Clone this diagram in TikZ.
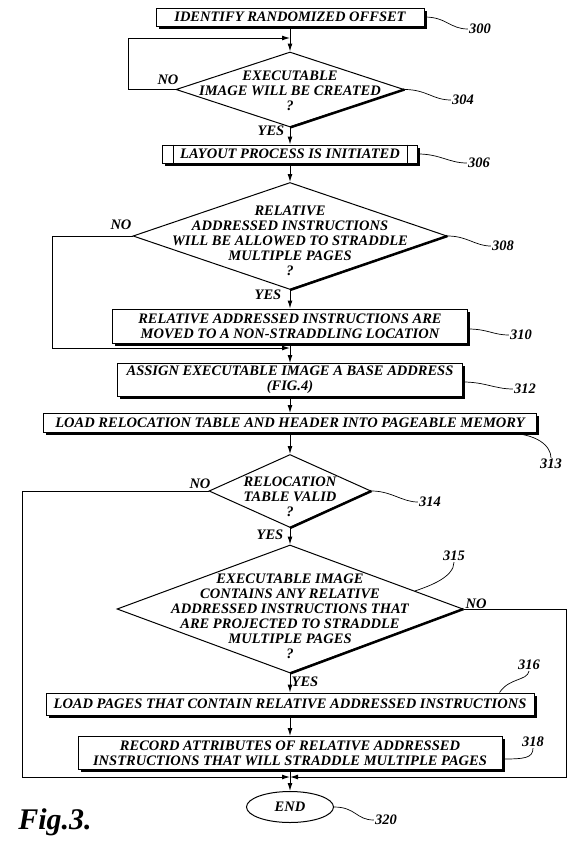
\documentclass[tikz,border=0pt]{standalone}
\usepackage{fontspec}
\setmainfont{Liberation Serif}
\usetikzlibrary{arrows.meta}
\usetikzlibrary{calc,shadows,shapes.geometric}

\begin{document}
\begin{tikzpicture}[x=1pt, y=-1pt,
        font=\fontsize{14.5}{15}\selectfont\bfseries\itshape,
        stepbox/.style={rectangle, draw=black, fill=white, line width=1pt, inner sep=0pt, align=center,
        drop shadow={shadow xshift=2.5pt, shadow yshift=-2.5pt, fill=black, opacity=1}},
        decision/.style={diamond, draw=black, fill=white, line width=1pt, inner sep=0pt},
        refnum/.style={inner sep=1pt},
        answer/.style={inner sep=1pt},
        arr/.style={-{Latex[length=8pt,width=5pt]}, line width=1pt},
        lead/.style={line width=0.7pt}]
    \useasboundingbox (0,0) rectangle (576,846);

    % process steps
    \node [stepbox, minimum width=268pt, minimum height=18pt] (b300) at (290,17) {IDENTIFY RANDOMIZED OFFSET};
    \node [decision, minimum width=228pt, minimum height=75pt,
        label={[align=center, yshift=-1pt]center:EXECUTABLE\\IMAGE WILL BE CREATED\\?}] (d304) at (290,89.5) {};
    \node [stepbox, minimum width=255pt, minimum height=18pt] (b306) at (290,154) {LAYOUT PROCESS IS INITIATED};
    \node [decision, minimum width=314pt, minimum height=107pt,
        label={[align=center, yshift=-5pt]center:RELATIVE\\ADDRESSED INSTRUCTIONS\\WILL BE ALLOWED TO STRADDLE\\MULTIPLE PAGES\\?}] (d308) at (290,236) {};
    \node [stepbox, minimum width=355pt, minimum height=34pt] (b310) at (290,326)
        {RELATIVE ADDRESSED INSTRUCTIONS ARE\\MOVED TO A NON-STRADDLING LOCATION};
    \node [stepbox, minimum width=345pt, minimum height=33pt] (b312) at (290,380)
        {ASSIGN EXECUTABLE IMAGE A BASE ADDRESS\\(FIG.4)};
    \node [stepbox, minimum width=493pt, minimum height=19pt] (b313) at (290,423)
        {LOAD RELOCATION TABLE AND HEADER INTO PAGEABLE MEMORY};
    \node [decision, minimum width=162pt, minimum height=73pt,
        label={[align=center, yshift=-6pt]center:RELOCATION\\TABLE VALID\\?}] (d314) at (290,491) {};
    \node [decision, minimum width=346pt, minimum height=128pt,
        label={[align=center, yshift=-7pt]center:EXECUTABLE IMAGE\\CONTAINS ANY RELATIVE\\ADDRESSED INSTRUCTIONS THAT\\ARE PROJECTED TO STRADDLE\\MULTIPLE PAGES\\?}] (d315) at (290,609) {};
    \node [stepbox, minimum width=488pt, minimum height=22pt] (b316) at (290,704)
        {LOAD PAGES THAT CONTAIN RELATIVE ADDRESSED INSTRUCTIONS};
    \node [stepbox, minimum width=424pt, minimum height=33pt] (b318) at (290,753)
        {RECORD ATTRIBUTES OF RELATIVE ADDRESSED\\INSTRUCTIONS THAT WILL STRADDLE MULTIPLE PAGES};
    \node [ellipse, draw=black, line width=1pt, minimum width=87pt, minimum height=31pt, inner sep=0pt] (e320) at (290,807) {END};

    % double sides of 306, heavy edges of the decisions
    \draw [line width=1pt] ([xshift=11pt]b306.north west) -- ([xshift=11pt]b306.south west);
    \draw [line width=1pt] ([xshift=-11pt]b306.north east) -- ([xshift=-11pt]b306.south east);
    \foreach \d in {d304,d308,d314,d315}
        \draw [line width=2.5pt] (\d.east) -- (\d.south);

    % main flow
    \foreach \a/\b in {b300/d304, d304/b306, b306/d308, d308/b310, b310/b312, b312/b313,
        b313/d314, d314/d315, d315/b316, b316/b318, b318/e320}
        \draw [arr] (\a.south) -- (\b.north);

    % branches
    \coordinate (k304) at (128,38);
    \coordinate (j304) at (290,38);
    \draw [arr] (d304.west) -| (k304) -- (j304);
    \coordinate (k308) at (52,348);
    \coordinate (j308) at (290,348);
    \draw [arr] (d308.west) -| (k308) -- (j308);
    \coordinate (k314) at (22,777);
    \coordinate (k315) at (566,777);
    \coordinate (j320) at (290,777);
    \draw [arr] (d314.west) -| (k314) -- (j320);
    \draw [arr] (d315.east) -| (k315) -- (j320);

    \node [answer] (no304) at (168,80) {NO};
    \node [answer] (yes304) at (271,131) {YES};
    \node [answer] (no308) at (121,225) {NO};
    \node [answer] (yes308) at (268,295) {YES};
    \node [answer] (no314) at (200,484) {NO};
    \node [answer] (yes314) at (270,535) {YES};
    \node [answer] (no315) at (476,604) {NO};
    \node [answer] (yes315) at (305,682) {YES};

    % reference numerals
    \node [refnum] (l300) at (480,29) {300};
    \node [refnum] (l304) at (463,100) {304};
    \node [refnum] (l306) at (479,163) {306};
    \node [refnum] (l308) at (503,246) {308};
    \node [refnum] (l310) at (521,335) {310};
    \node [refnum] (l312) at (525,389) {312};
    \node [refnum] (l313) at (551,464) {313};
    \node [refnum] (l314) at (430,502) {314};
    \node [refnum] (l315) at (454,556) {315};
    \node [refnum] (l316) at (529,665) {316};
    \node [refnum] (l318) at (533,742) {318};
    \node [refnum] (l320) at (386,820) {320};

    \draw [lead] (b300.east) .. controls +(22,0) and +(-18,0) .. (l300.west);
    \draw [lead] (d304.east) .. controls +(22,0) and +(-18,0) .. (l304.west);
    \draw [lead] (b306.east) .. controls +(22,0) and +(-18,0) .. (l306.west);
    \draw [lead] (d308.east) .. controls +(20,0) and +(-16,0) .. (l308.west);
    \draw [lead] ([yshift=-3pt]b310.east) .. controls +(20,0) and +(-16,0) .. (l310.west);
    \draw [lead] ([yshift=-2pt]b312.east) .. controls +(22,0) and +(-18,0) .. (l312.west);
    \draw [lead] ([xshift=-32pt]b313.south east) .. controls +(32,0) and +(0,-12) .. (l313.north);
    \draw [lead] (d314.east) .. controls +(20,0) and +(-16,0) .. (l314.west);
    \draw [lead] ($(d315.north)!0.72!(d315.east)$) .. controls +(15,-5) and +(0,15) .. (l315.south);
    \draw [lead] ([xshift=-35pt]b316.north east) .. controls +(10,-15) and +(-2,10) .. (l316.south);
    \draw [lead] ([yshift=-6pt]b318.east) .. controls +(22,0) and +(0,10) .. (l318.south);
    \draw [lead] (e320.east) .. controls +(22,0) and +(-18,0) .. (l320.west);

    \node [font=\fontsize{30}{30}\selectfont\bfseries\itshape] (fig) at (55,822) {Fig.3.};
\end{tikzpicture}
\end{document}
